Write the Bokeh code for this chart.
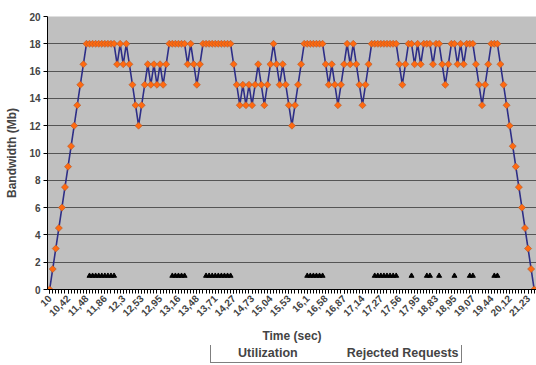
import math
from bokeh.plotting import figure
from bokeh.layouts import column
from bokeh.models import ColumnDataSource, FixedTicker, Legend, LegendItem
from bokeh.embed import file_html
from bokeh.resources import INLINE

N = float("nan")

# x-axis category labels (one label every 6 samples)
tick_labels = ["10", "10,42", "11,48", "11,86", "12,3", "12,53", "12,95", "13,16",
               "13,48", "13,71", "14,27", "14,73", "15,04", "15,53", "16,1", "16,58",
               "16,87", "17,14", "17,27", "17,56", "17,95", "18,83", "18,95", "19,07",
               "19,44", "20,12", "21,23"]
label_every = 6

# Bandwidth utilization (Mb), one value per sample
utilization = [
    0, 1.5, 3, 4.5, 6, 7.5, 9, 10.5, 12, 13.5,
    15, 16.5, 18, 18, 18, 18, 18, 18, 18, 18,
    18, 18, 16.5, 18, 16.5, 18, 16.5, 15, 13.5, 12,
    13.5, 15, 16.5, 15, 16.5, 15, 16.5, 15, 16.5, 18,
    18, 18, 18, 18, 18, 16.5, 18, 16.5, 15, 16.5,
    18, 18, 18, 18, 18, 18, 18, 18, 18, 18,
    16.5, 15, 13.5, 15, 13.5, 15, 13.5, 15, 16.5, 15,
    13.5, 15, 16.5, 18, 16.5, 15, 16.5, 15, 13.5, 12,
    13.5, 15, 16.5, 18, 18, 18, 18, 18, 18, 18,
    16.5, 15, 16.5, 15, 13.5, 15, 16.5, 18, 16.5, 18,
    16.5, 15, 13.5, 15, 16.5, 18, 18, 18, 18, 18,
    18, 18, 18, 18, 16.5, 15, 16.5, 18, 18, 16.5,
    18, 16.5, 18, 18, 18, 16.5, 18, 18, 16.5, 15,
    16.5, 18, 18, 16.5, 18, 16.5, 18, 18, 18, 16.5,
    15, 13.5, 15, 16.5, 18, 18, 18, 16.5, 15, 13.5,
    12, 10.5, 9, 7.5, 6, 4.5, 3, 1.5, 0,
]

# Rejected requests (N = no value)
rejected = [
    N, N, N, N, N, N, N, N, N, N,
    N, N, N, 1, 1, 1, 1, 1, 1, 1,
    1, 1, N, N, N, N, N, N, N, N,
    N, N, N, N, N, N, N, N, N, N,
    1, 1, 1, 1, 1, N, N, N, N, N,
    N, 1, 1, 1, 1, 1, 1, 1, 1, 1,
    N, N, N, N, N, N, N, N, N, N,
    N, N, N, N, N, N, N, N, N, N,
    N, N, N, N, 1, 1, 1, 1, 1, 1,
    N, N, N, N, N, N, N, N, N, N,
    N, N, N, N, N, N, 1, 1, 1, 1,
    1, 1, 1, 1, N, N, N, N, 1, N,
    N, N, N, 1, 1, N, N, 1, N, N,
    N, N, 1, N, N, N, N, 1, 1, N,
    N, N, N, N, N, 1, 1, N, N, N,
    N, N, N, N, N, N, N, N, N,
]

y_ticks = list(range(0, 21, 2))

n = len(utilization)
src = ColumnDataSource(dict(x=list(range(n)), util=utilization, rej=rejected))

FONT = "Liberation Sans"
UTIL_LINE = dict(line_color="#2e2e86", line_width=1.6)
UTIL_MARK = dict(marker="square", angle=math.pi / 4, size=5,
                 fill_color="#FF6A10", line_color="#B0552A", line_width=0.6)
REJ_LINE = dict(line_color="black", line_width=1)
REJ_MARK = dict(marker="triangle", size=5, fill_color="black", line_color="black")

p = figure(width=536, height=345, output_backend="svg", toolbar_location=None,
           x_range=(-0.7, n - 1 + 0.75), y_range=(0, 20),
           min_border_left=47, min_border_right=0, min_border_top=16,
           min_border_bottom=55)
p.background_fill_color = "#C0C0C0"
p.border_fill_color = "white"
p.outline_line_color = None

# grid
p.xgrid.visible = False
p.ygrid.grid_line_color = "#555555"
p.ygrid.grid_line_width = 1

# x axis
major = [i * label_every for i in range(len(tick_labels))]
p.xaxis.ticker = FixedTicker(ticks=major, minor_ticks=list(range(n)))
p.xaxis.major_label_overrides = {major[i]: tick_labels[i] for i in range(len(tick_labels))}
p.xaxis.major_label_orientation = math.pi / 4
p.xaxis.major_label_text_font = FONT
p.xaxis.major_label_text_font_style = "bold"
p.xaxis.major_label_text_font_size = "10px"
p.xaxis.major_label_standoff = 3
p.xaxis.major_tick_out = 4
p.xaxis.major_tick_in = 0
p.xaxis.minor_tick_out = 4
p.xaxis.minor_tick_in = 0
p.xaxis.axis_line_color = "black"
p.xaxis.major_tick_line_color = "black"
p.xaxis.minor_tick_line_color = "black"
p.xaxis.axis_label = "Time (sec)"
p.xaxis.axis_label_text_font = FONT
p.xaxis.axis_label_text_font_style = "bold"
p.xaxis.axis_label_text_font_size = "12px"
p.xaxis.axis_label_standoff = 6

# y axis
p.yaxis.ticker = FixedTicker(ticks=y_ticks, minor_ticks=[])
p.yaxis.major_label_text_font = FONT
p.yaxis.major_label_text_font_style = "bold"
p.yaxis.major_label_text_font_size = "10px"
p.yaxis.major_label_standoff = 3
p.yaxis.major_tick_out = 4
p.yaxis.major_tick_in = 0
p.yaxis.axis_line_color = "black"
p.yaxis.major_tick_line_color = "black"
p.yaxis.axis_label = "Bandwidth (Mb)"
p.yaxis.axis_label_text_font = FONT
p.yaxis.axis_label_text_font_style = "bold"
p.yaxis.axis_label_text_font_size = "12px"
p.yaxis.axis_label_standoff = 7

# series
p.line("x", "util", source=src, **UTIL_LINE)
p.scatter("x", "util", source=src, **UTIL_MARK)
p.line("x", "rej", source=src, **REJ_LINE)
p.scatter("x", "rej", source=src, **REJ_MARK)

# legend strip below the chart (separate small figure, swatches only)
lf = figure(width=536, height=20, output_backend="svg", toolbar_location=None,
            x_range=(0, 1), y_range=(0, 1), x_axis_location=None, y_axis_location=None,
            min_border=0)
lf.grid.visible = False
lf.outline_line_color = None
lf.background_fill_color = "white"
lf.border_fill_color = "white"
empty = ColumnDataSource(dict(x=[], y=[]))
a1 = lf.line("x", "y", source=empty, **UTIL_LINE)
a2 = lf.scatter("x", "y", source=empty, **UTIL_MARK)
b1 = lf.line("x", "y", source=empty, **REJ_LINE)
b2 = lf.scatter("x", "y", source=empty, **REJ_MARK)

legend = Legend(items=[LegendItem(label="Utilization", renderers=[a1, a2]),
                       LegendItem(label="Rejected Requests", renderers=[b1, b2])],
                orientation="horizontal", location=(163, 2),
                label_text_font=FONT, label_text_font_style="bold",
                label_text_font_size="12.5px",
                glyph_width=22, glyph_height=13, label_height=13,
                label_standoff=3, spacing=24, padding=2, margin=0,
                border_line_color="black", border_line_width=1,
                background_fill_color="white", background_fill_alpha=1)
lf.add_layout(legend)

layout = column(p, lf, spacing=0)

open("out.html", "w").write(file_html(layout, INLINE))
